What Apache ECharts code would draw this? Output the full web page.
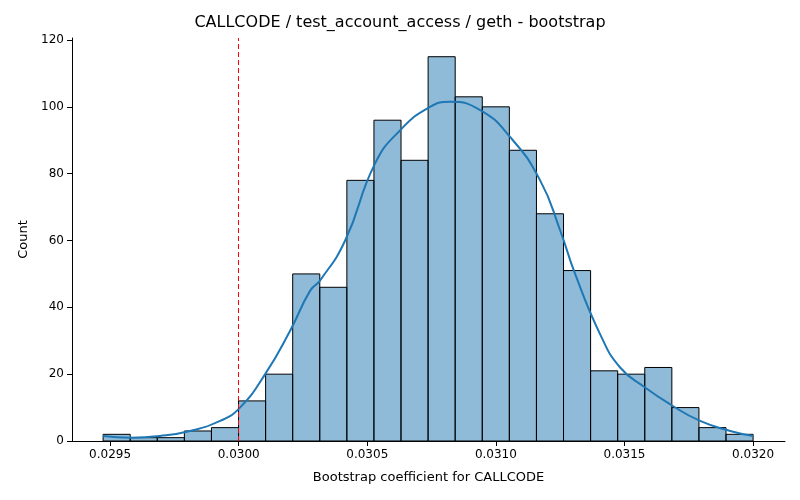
<!DOCTYPE html>
<html><head><meta charset="utf-8">
<script src="https://cdn.jsdelivr.net/npm/echarts@6/dist/echarts.min.js"></script>
<style>html,body{margin:0;background:#fff}#c{width:800px;height:500px}</style>
</head><body><div id="c"></div>
<script>
// histogram bins
var binStart = 0.029473, binWidth = 0.00010529;
var counts = [2,1,1,3,4,12,20,50,46,78,96,84,115,103,100,87,68,51,21,20,22,10,4,2];
// kde curve
var kdeX = [0.029473,0.029578,0.029694,0.029811,0.029928,0.030005,0.030103,0.030200,0.030278,0.030316,0.030414,0.030530,0.030628,0.030744,0.030822,0.030939,0.031055,0.031172,0.031250,0.031308,0.031405,0.031483,0.031580,0.031677,0.031794,0.031911,0.032000];
var kdeY = [1.5,1,1.5,3,6,10,20,33,45,48,60,83,93,100,101.5,99,91,78,63,50,32,22,16,11,6,3,1.5];
var meanLine = 0.030830;
var xTicks = [0.0295,0.0300,0.0305,0.0310,0.0315,0.0320];

var bars = counts.map(function(c,i){ return [binStart+i*binWidth, binStart+(i+1)*binWidth, c]; });
var kde = kdeX.map(function(x,i){ return [x,kdeY[i]]; });

var chart = echarts.init(document.getElementById('c'));
chart.setOption({
	animation:false,
	title:{text:'CALLCODE / test_account_access / geth - bootstrap',left:'center',top:10,
		textStyle:{fontFamily:'DejaVu Sans',fontWeight:'normal',fontSize:16,color:'#000'}},
	grid:{left:72,right:15,top:38,bottom:59},
	xAxis:{type:'value',min:0.029352,max:0.032124,name:'Bootstrap coefficient for CALLCODE',
		nameLocation:'middle',nameGap:30,nameTextStyle:{fontFamily:'DejaVu Sans',fontSize:13,color:'#000'},
		axisLine:{onZero:false,lineStyle:{color:'#000'}},splitLine:{show:false},
		axisTick:{customValues:xTicks,lineStyle:{color:'#000'}},
		axisLabel:{customValues:xTicks,formatter:function(v){return v.toFixed(4);},fontFamily:'DejaVu Sans',fontSize:12,color:'#000'}},
	yAxis:{type:'value',min:0,max:120.6,interval:20,name:'Count',nameLocation:'middle',nameGap:40,
		nameTextStyle:{fontFamily:'DejaVu Sans',fontSize:13,color:'#000'},
		axisLine:{show:true,lineStyle:{color:'#000'}},axisTick:{show:true,lineStyle:{color:'#000'}},splitLine:{show:false},
		axisLabel:{fontFamily:'DejaVu Sans',fontSize:12,color:'#000',showMaxLabel:false}},
	series:[{
		type:'custom',data:bars,
		renderItem:function(params,api){
			var p0 = api.coord([api.value(0),api.value(2)]);
			var p1 = api.coord([api.value(1),0]);
			return {type:'rect',shape:{x:p0[0],y:p0[1],width:p1[0]-p0[0],height:p1[1]-p0[1]},
				style:{fill:'rgba(31,119,180,0.5)',stroke:'#000',lineWidth:1}};
		},
		encode:{x:[0,1],y:2}
	},{
		type:'line',data:kde,smooth:true,symbol:'none',lineStyle:{color:'#1f77b4',width:2},
		markLine:{silent:true,symbol:'none',label:{show:false},
			lineStyle:{color:'red',type:[5,3],width:1},data:[{xAxis:meanLine}]}
	}]
});
</script></body></html>
